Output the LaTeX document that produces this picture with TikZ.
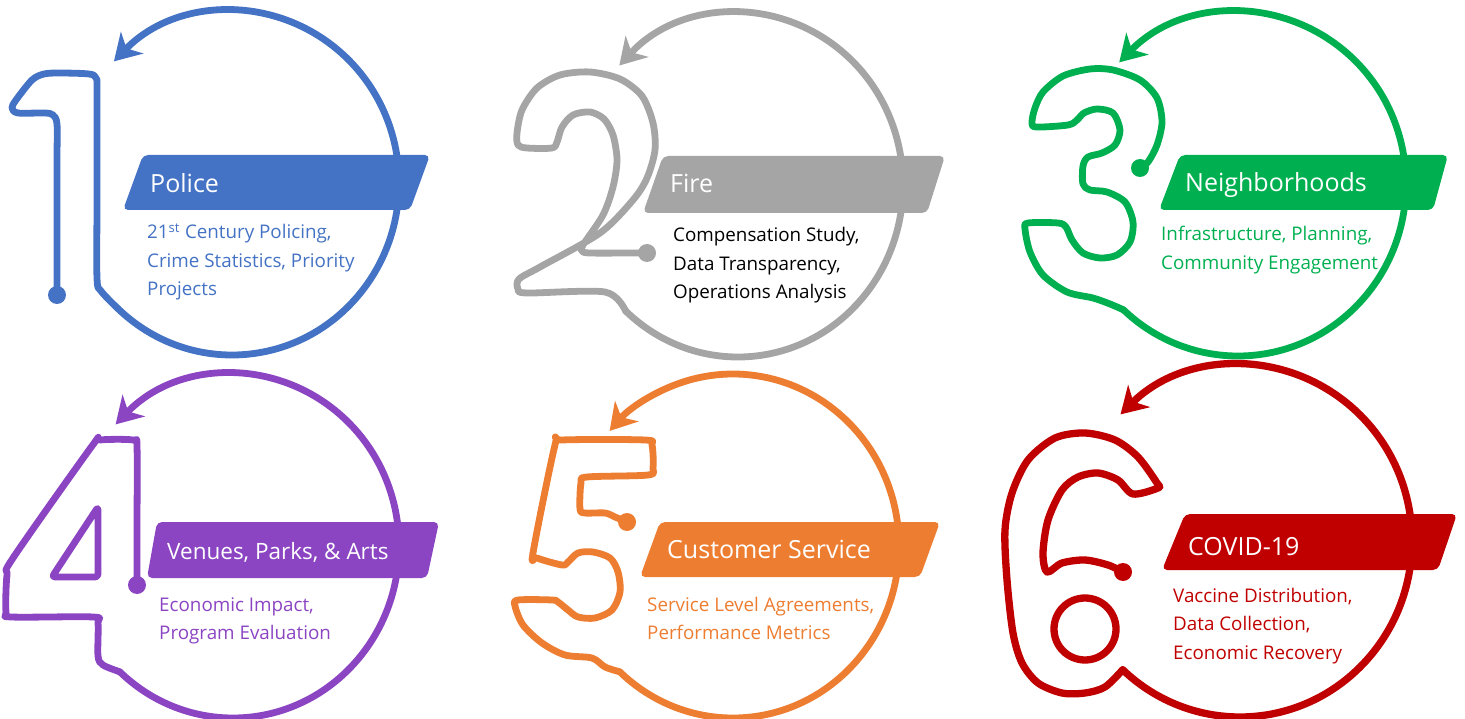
\documentclass[tikz,border=0pt]{standalone}
\usepackage{fontspec}
\setmainfont{Open Sans}
\usetikzlibrary{arrows.meta,calc}
\definecolor{cblue}{HTML}{4472C4}
\definecolor{cgray}{HTML}{A5A5A5}
\definecolor{cgreen}{HTML}{00B050}
\definecolor{cpurple}{HTML}{8B44C2}
\definecolor{corange}{HTML}{ED7D31}
\definecolor{cred}{HTML}{C00000}
\newcommand{\lines}[1]{\begin{tabular}[t]{@{}l@{}}#1\end{tabular}}
\begin{document}
\begin{tikzpicture}[x=1pt,y=-1pt,
  stroke/.style={line width=6.8pt,line cap=round,line join=round},
  numeral/.style={stroke,smooth,tension=0.5},
  ring/.style={stroke,-{Stealth[length=26pt,width=31pt,inset=8pt]}},
  banner/.style={rounded corners=5pt},
  title/.style={anchor=base west,inner sep=0pt,text=white,font=\fontsize{25}{30}\selectfont},
  body/.style={anchor=base west,inner sep=0pt,font=\fontsize{18.8}{28.5}\selectfont}]
\useasboundingbox (0,0) rectangle (1465,719);

% ---------- 1: Police ----------
\coordinate (c1) at (232,183);
\coordinate (j1) at ($(c1)+(133:167 and 172)$);
\draw[numeral,cblue] plot coordinates {(57,295) (57,240) (57,160) (57,124) (53,115) (45,113) (18,113) (12,108) (16,100) (32,80) (44,74) (60,73) (89,74) (96,78) (97,92) (97,200) (97,278) (101,291) (j1)};
\fill[cblue] (57,295) circle[radius=9];
\draw[ring,cblue] (j1) arc[start angle=133,end angle=-135,x radius=167,y radius=172];
\fill[cblue,banner] (143,155) -- (430,155) -- (410,210) -- (123,210) -- cycle;
\node[title] (t1) at (150,193) {Police};
\node[body,text=cblue] (d1) at (147,239) {\lines{21\textsuperscript{st} Century Policing,\\Crime Statistics, Priority\\Projects}};

% ---------- 2: Fire ----------
\coordinate (c2) at (738,185);
\coordinate (j2) at ($(c2)+(133:165 and 172)$);
\draw[numeral,cgray] plot coordinates {(647,253) (633,253) (590,253) (582,251) (583,245) (603,215) (613,187) (617,160) (613,135) (604,119) (590,112) (573,115) (562,127) (557,142) (552,148) (527,148) (518,145) (517,133) (522,110) (537,88) (560,75) (590,72) (620,79) (642,96) (653,123) (655,150) (647,178) (633,200) (600,233) (540,267) (519,279) (518,289) (527,293) (605,292) (j2)};
\fill[cgray] (647,253) circle[radius=9];
\draw[ring,cgray] (j2) arc[start angle=133,end angle=-136,x radius=165,y radius=172];
\fill[cgray,banner] (663,156) -- (945,156) -- (927,213) -- (643,213) -- cycle;
\node[title] (t2) at (670,193) {Fire};
\node[body,text=black] (d2) at (673,242) {\lines{Compensation Study,\\Data Transparency,\\Operations Analysis}};

% ---------- 3: Neighborhoods ----------
\coordinate (c3) at (1238,184);
\coordinate (j3) at ($(c3)+(133:168 and 172)$);
\draw[numeral,cgreen] plot coordinates {(1140,168) (1148,162) (1157,145) (1162,122) (1157,98) (1140,80) (1113,70) (1090,69) (1063,76) (1043,92) (1035,108) (1032,122) (1036,127) (1068,125) (1077,120) (1084,113) (1097,109) (1113,113) (1120,130) (1115,145) (1102,153) (1088,157) (1083,166) (1083,184) (1090,190) (1107,192) (1125,202) (1133,222) (1130,242) (1117,255) (1100,258) (1083,253) (1072,240) (1066,227) (1058,223) (1028,223) (1025,229) (1030,252) (1043,275) (1067,292) (1093,298) (1110,304) (j3)};
\fill[cgreen] (1140,168) circle[radius=9];
\draw[ring,cgreen] (j3) arc[start angle=133,end angle=-135,x radius=168,y radius=172];
\fill[cgreen,banner] (1180,155) -- (1448,155) -- (1433,210) -- (1159,210) -- cycle;
\node[title] (t3) at (1185,192) {Neighborhoods};
\node[body,text=cgreen] (d3) at (1161,241) {\lines{Infrastructure, Planning,\\Community Engagement}};

% ---------- 4: Venues, Parks, & Arts ----------
\coordinate (c4) at (233,546);
\coordinate (j4) at ($(c4)+(133:166 and 172)$);
\draw[numeral,cpurple] plot coordinates {(137,585) (137,572) (137,525) (137,447) (133,440) (100,440) (92,446) (13,558) (7,575) (6,612) (12,617) (93,617) (98,623) (98,656) (103,665) (j4)};
\draw[stroke,cpurple,rounded corners=3pt] (98,507) -- (98,577) -- (52,577) -- cycle;
\fill[cpurple] (137,585) circle[radius=9];
\draw[ring,cpurple] (j4) arc[start angle=133,end angle=-135,x radius=166,y radius=172];
\fill[cpurple,banner] (157,522) -- (439,522) -- (427,578) -- (147,578) -- cycle;
\node[title,font=\fontsize{22.5}{27}\selectfont] (t4) at (167,559) {Venues, Parks, \& Arts};
\node[body,text=cpurple] (d4) at (159,611) {\lines{Economic Impact,\\Program Evaluation}};

% ---------- 5: Customer Service ----------
\coordinate (c5) at (733,546);
\coordinate (j5) at ($(c5)+(133:166 and 172)$);
\draw[numeral,corange] plot coordinates {(627,522) (615,517) (605,513) (585,513) (580,509) (581,483) (587,477) (648,475) (653,468) (652,445) (645,440) (562,440) (555,445) (533,553) (537,558) (562,565) (568,562) (578,553) (593,552) (610,558) (618,572) (620,592) (612,610) (595,618) (578,617) (568,610) (558,602) (552,600) (518,600) (515,606) (523,625) (542,643) (565,655) (592,658) (605,667) (j5)};
\fill[corange] (627,522) circle[radius=9];
\draw[ring,corange] (j5) arc[start angle=133,end angle=-138,x radius=166,y radius=172];
\fill[corange,banner] (660,522) -- (940,522) -- (920,577) -- (640,577) -- cycle;
\node[title] (t5) at (667,558) {Customer Service};
\node[body,text=corange] (d5) at (647,611) {\lines{Service Level Agreements,\\Performance Metrics}};

% ---------- 6: COVID-19 ----------
\coordinate (c6) at (1240,541);
\coordinate (j6) at ($(c6)+(133:172 and 176)$);
\draw[numeral,cred,line width=7.3pt] plot coordinates {(1123,572) (1108,565) (1085,560) (1062,563) (1047,572) (1043,553) (1048,520) (1062,490) (1078,477) (1098,473) (1118,480) (1133,494) (1158,488) (1157,483) (1138,457) (1115,440) (1085,433) (1055,438) (1028,460) (1012,493) (1005,530) (1007,580) (1013,633) (1022,663) (1038,683) (1062,693) (1085,693) (1105,687) (j6)};
\draw[stroke,cred,line width=7.3pt] (1085,629) circle[radius=31];
\fill[cred] (1123,572) circle[radius=9];
\draw[ring,cred,line width=7.3pt] (j6) arc[start angle=133,end angle=-134,x radius=172,y radius=176];
\fill[cred,banner] (1185,514) -- (1457,514) -- (1438,570) -- (1162,570) -- cycle;
\node[title] (t6) at (1188,555) {COVID-19};
\node[body,text=cred] (d6) at (1173,602) {\lines{Vaccine Distribution,\\Data Collection,\\Economic Recovery}};
\end{tikzpicture}
\end{document}
